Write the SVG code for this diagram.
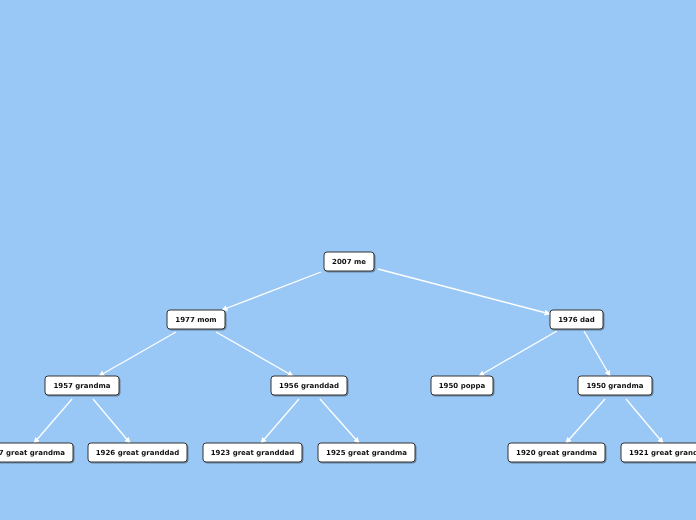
<svg xmlns="http://www.w3.org/2000/svg" width="696" height="520" viewBox="0 0 696 520">
<style>
.n rect{fill:#fff;stroke:#333;stroke-width:1;}
.n text{font-family:"DejaVu Sans",Verdana,sans-serif;font-weight:bold;font-size:7px;fill:#111;text-anchor:middle;}
.c line{stroke:#fff;stroke-width:1.3;marker-end:url(#ah);}
</style>
<defs>
<marker id="ah" viewBox="0 0 10 10" refX="9" refY="5" markerWidth="6" markerHeight="6" markerUnits="userSpaceOnUse" orient="auto">
<path d="M0,0 L10,5 L0,10 z" fill="#fff"/>
</marker>
<filter id="sh" x="-10%" y="-20%" width="120%" height="150%">
<feDropShadow dx="1" dy="1" stdDeviation="0.6" flood-color="#000" flood-opacity="0.35"/>
</filter>
</defs>
<rect x="0" y="0" width="696" height="520" fill="#9ac8f6"/>
<g class="c">
<line x1="321" y1="272" x2="222" y2="310"/>
<line x1="378" y1="269" x2="550" y2="314"/>
<line x1="176" y1="332" x2="99" y2="376"/>
<line x1="216" y1="332" x2="293" y2="376"/>
<line x1="557" y1="331" x2="479" y2="376"/>
<line x1="584" y1="331" x2="610" y2="376"/>
<line x1="72" y1="399" x2="34" y2="443"/>
<line x1="93" y1="399" x2="130" y2="443"/>
<line x1="299" y1="399" x2="261" y2="443"/>
<line x1="320" y1="399" x2="359" y2="443"/>
<line x1="605" y1="399" x2="566" y2="443"/>
<line x1="626" y1="399" x2="663" y2="443"/>
</g>
<g id="n-me" class="n" filter="url(#sh)"><rect x="324" y="252" width="50" height="19" rx="3"/><text x="349" y="264">2007 me</text></g>
<g id="n-mom" class="n" filter="url(#sh)"><rect x="167" y="310" width="58" height="19" rx="3"/><text x="196" y="322">1977 mom</text></g>
<g id="n-dad" class="n" filter="url(#sh)"><rect x="550" y="310" width="53" height="19" rx="3"/><text x="576.5" y="322">1976 dad</text></g>
<g id="n-grandma57" class="n" filter="url(#sh)"><rect x="45" y="376" width="74" height="19" rx="3"/><text x="82" y="388">1957 grandma</text></g>
<g id="n-granddad56" class="n" filter="url(#sh)"><rect x="271" y="376" width="76" height="19" rx="3"/><text x="309" y="388">1956 granddad</text></g>
<g id="n-poppa" class="n" filter="url(#sh)"><rect x="431" y="376" width="62" height="19" rx="3"/><text x="462" y="388">1950 poppa</text></g>
<g id="n-grandma50" class="n" filter="url(#sh)"><rect x="578" y="376" width="74" height="19" rx="3"/><text x="615" y="388">1950 grandma</text></g>
<g id="n-gg27" class="n" filter="url(#sh)"><rect x="-24" y="443" width="97" height="19" rx="3"/><text x="24.5" y="455">1927 great grandma</text></g>
<g id="n-gg26" class="n" filter="url(#sh)"><rect x="88" y="443" width="99" height="19" rx="3"/><text x="137.5" y="455">1926 great granddad</text></g>
<g id="n-gg23" class="n" filter="url(#sh)"><rect x="203" y="443" width="99" height="19" rx="3"/><text x="252.5" y="455">1923 great granddad</text></g>
<g id="n-gg25" class="n" filter="url(#sh)"><rect x="318" y="443" width="97" height="19" rx="3"/><text x="366.5" y="455">1925 great grandma</text></g>
<g id="n-gg20" class="n" filter="url(#sh)"><rect x="508" y="443" width="97" height="19" rx="3"/><text x="556.5" y="455">1920 great grandma</text></g>
<g id="n-gg21" class="n" filter="url(#sh)"><rect x="621" y="443" width="97" height="19" rx="3"/><text x="669.5" y="455">1921 great grandma</text></g>
</svg>
